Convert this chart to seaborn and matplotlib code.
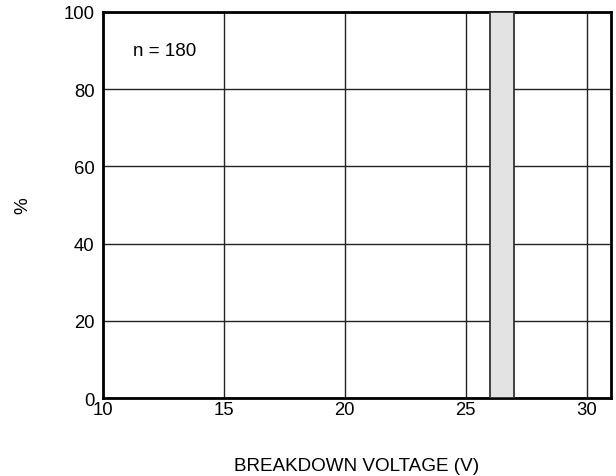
import matplotlib
matplotlib.use("Agg")
import matplotlib.pyplot as plt
import seaborn as sns

# Data
bin_edges = [26, 27]
bin_centers = [26.5]
percent = [100]
x_ticks = [10, 15, 20, 25, 30]
y_ticks = [0, 20, 40, 60, 80, 100]
n_label = "n = 180"

sns.set_theme(style="white")
plt.rcParams['font.family'] = ['Liberation Sans', 'DejaVu Sans']

fig = plt.figure(figsize=(6.16, 4.77), dpi=100)
ax = fig.add_axes([0.167, 0.1635, 0.825, 0.8095])

sns.histplot(x=bin_centers, weights=percent, bins=bin_edges, ax=ax,
             color="#e3e3e3", edgecolor="#333333", linewidth=1.3, alpha=1, zorder=3)

ax.set_xlim(10, 31)
ax.set_ylim(0, 100)
ax.set_xticks(x_ticks)
ax.set_yticks(y_ticks)
ax.grid(True, color="#222222", linewidth=1.0, zorder=1)
ax.set_axisbelow(True)
for s in ax.spines.values():
    s.set_color("black")
    s.set_linewidth(2)
ax.tick_params(axis="both", labelsize=13.3, colors="black", length=0)
ax.tick_params(axis="x", pad=2.5)
ax.tick_params(axis="y", pad=6)

ax.set_xlabel("BREAKDOWN VOLTAGE (V)", fontsize=13.6, labelpad=27.5, color="black")
ax.set_ylabel("%", fontsize=13.6, labelpad=23, color="black", rotation=90)
ax.text(12.57, 90.0, n_label, fontsize=13.5, color="black", ha="center", va="center")

fig.savefig("out.png", dpi=100)
